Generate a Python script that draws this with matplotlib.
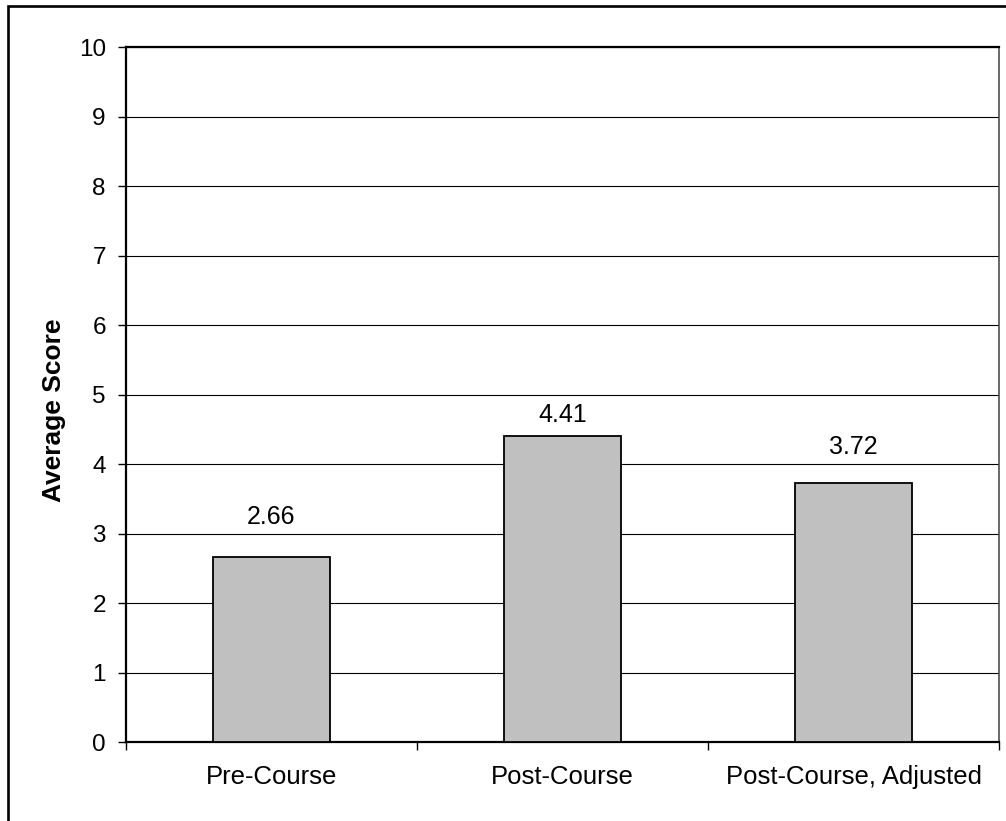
import matplotlib
matplotlib.use("Agg")
import matplotlib.pyplot as plt
from matplotlib.patches import Rectangle
from matplotlib.ticker import FixedLocator

plt.rcParams['font.family'] = ['Liberation Sans', 'DejaVu Sans']

# Data
categories = ["Pre-Course", "Post-Course", "Post-Course, Adjusted"]
scores = [2.66, 4.41, 3.72]
y_ticks = list(range(0, 11))

# Baseline offset (points) of each value label above its bar
label_offsets = [24, 9.5, 21.5]

W, H, DPI = 1006, 821, 100
fig = plt.figure(figsize=(W / DPI, H / DPI), dpi=DPI)
fig.patch.set_facecolor("white")

# Outer chart frame (right/bottom edges run off the canvas)
fig.add_artist(Rectangle((8 / W, -0.05), 1.2, 1.05 - 6 / H,
                         transform=fig.transFigure, fill=False,
                         edgecolor="black", linewidth=1.9, zorder=0))

ax = fig.add_axes([126 / W, 1 - 742 / H, (999 - 126) / W, (742 - 47) / H])
x = list(range(len(categories)))
ax.bar(x, scores, width=0.405, color="#C0C0C0", edgecolor="black",
       linewidth=1.3, zorder=3)

for xi, v, off in zip(x, scores, label_offsets):
    ax.annotate(f"{v:.2f}", xy=(xi, v), xytext=(0, off),
                textcoords="offset points", ha="center", va="baseline",
                fontsize=18, zorder=4)

ax.set_xlim(-0.5, len(categories) - 0.5)
ax.set_ylim(0, 10)
ax.set_yticks(y_ticks)
ax.set_yticklabels([str(t) for t in y_ticks], fontsize=17.5)
ax.set_xticks(x)
ax.set_xticklabels(categories, fontsize=18.5)
ax.xaxis.set_minor_locator(FixedLocator([i - 0.5 for i in range(len(categories) + 1)]))

ax.tick_params(axis="x", which="major", length=0, pad=16.5)
ax.tick_params(axis="x", which="minor", length=6, width=1.0, direction="out")
ax.tick_params(axis="y", which="major", length=6, width=1.0, pad=8.5, direction="out")

ax.yaxis.grid(True, color="black", linewidth=0.8, zorder=0)
ax.set_axisbelow(True)
for side in ["left", "bottom", "top"]:
    ax.spines[side].set_linewidth(1.6)
    ax.spines[side].set_color("black")
ax.spines["right"].set_linewidth(1.1)
ax.spines["right"].set_color("#404040")

fig.text(54 / W, 1 - 410 / H, "Average Score", rotation=90, ha="center",
         va="center", fontsize=19, fontweight="bold")

fig.savefig("out.png", dpi=DPI)
